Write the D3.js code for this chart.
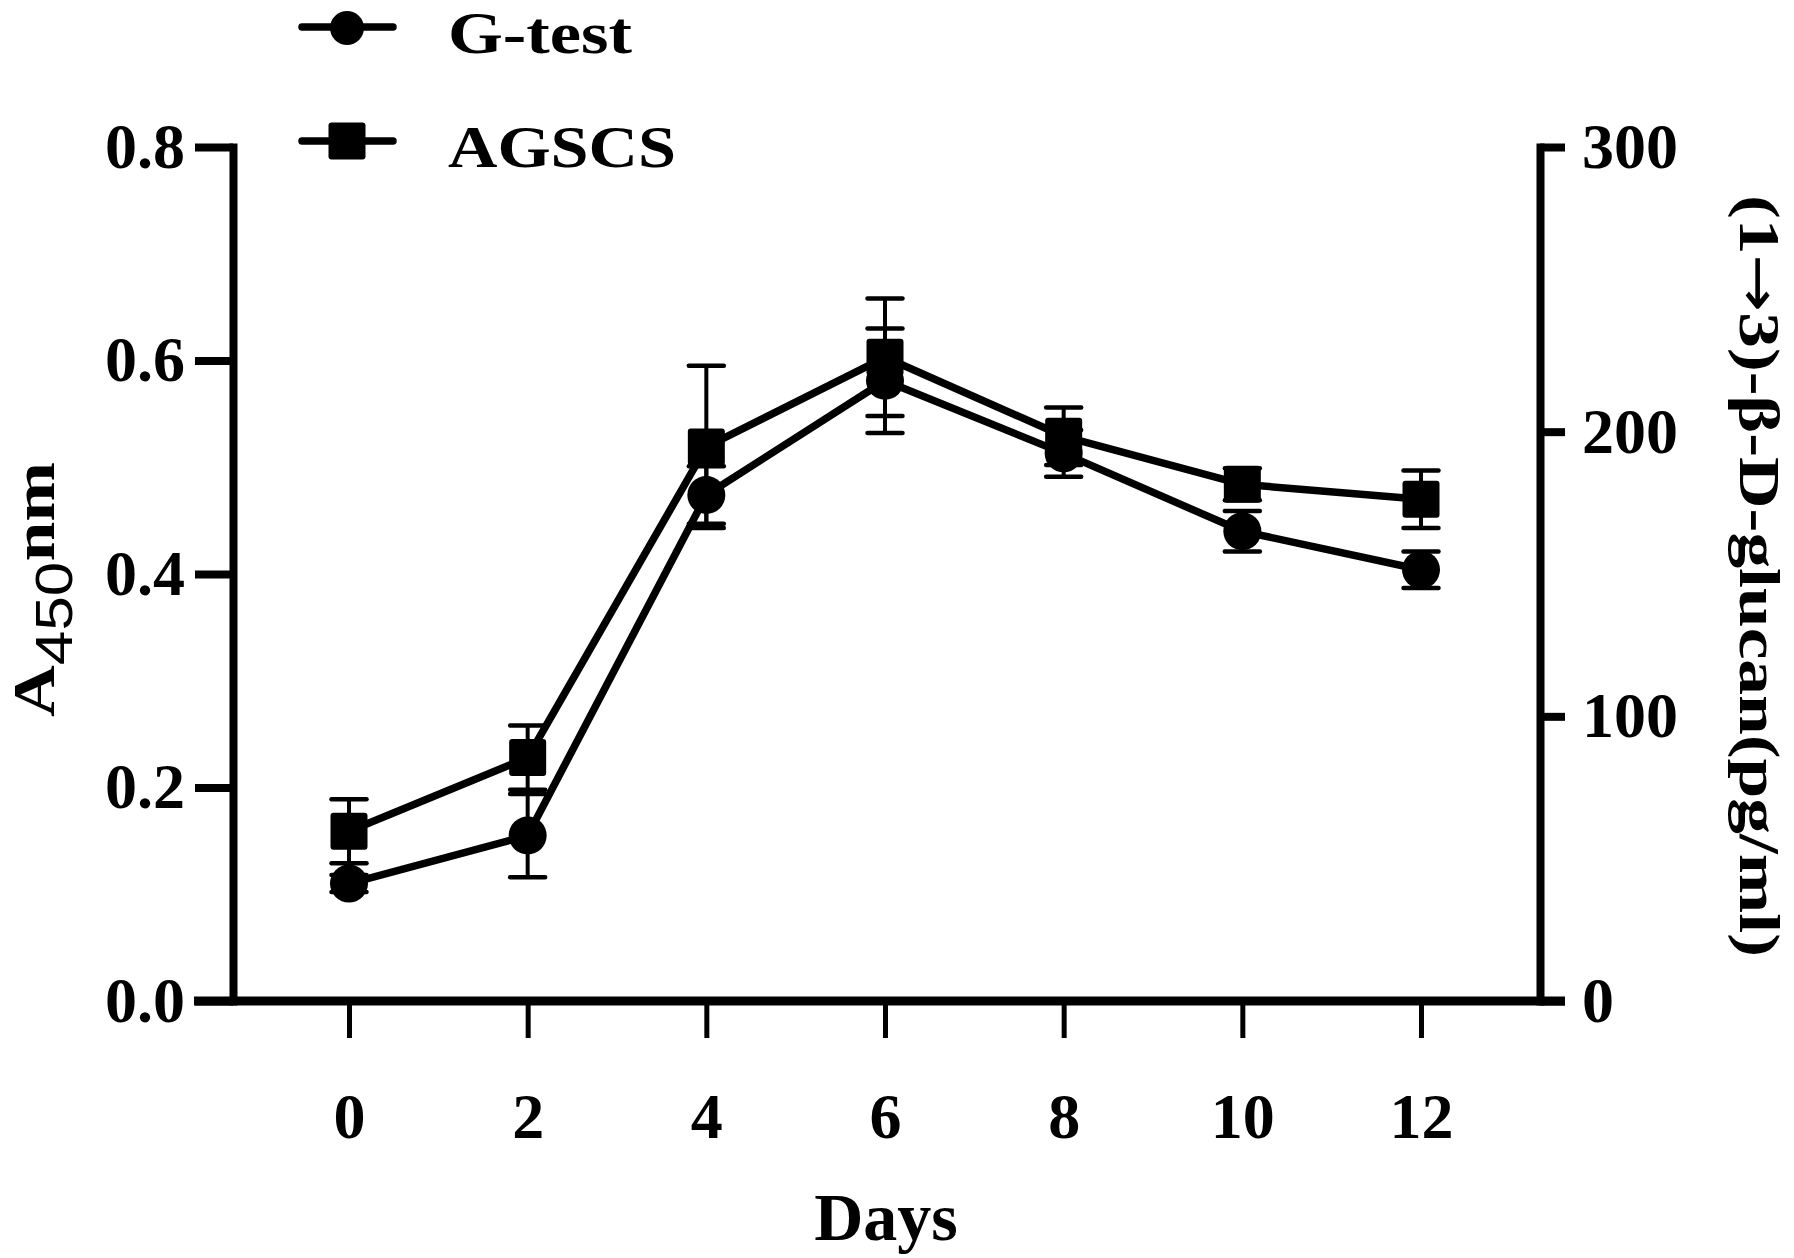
<!DOCTYPE html>
<html><head><meta charset="utf-8">
<script src="https://cdn.jsdelivr.net/npm/d3@7"></script>
<style>body{margin:0;background:#fff}</style>
</head><body>
<svg id="chart" width="1794" height="1258" xmlns="http://www.w3.org/2000/svg"></svg>
<script>
// ---- data ----
const days = [0, 2, 4, 6, 8, 10, 12];
const gtest = [0.110, 0.155, 0.474, 0.581, 0.513, 0.440, 0.404];
const gtestErr = [0.008, 0.039, 0.027, 0.049, 0.022, 0.019, 0.017];
const agscs = [0.159, 0.228, 0.519, 0.603, 0.529, 0.484, 0.470];
const agscsErr = [0.030, 0.030, 0.076, 0.055, 0.027, 0.015, 0.027];
const leftTicks = [0, 0.2, 0.4, 0.6, 0.8];
const rightTicks = [0, 100, 200, 300];
const seriesNames = ["G-test", "AGSCS"];
const xTitle = "Days";
const rightTitleParts = ["(1", "→", "3)-β-D-glucan(pg/ml)"];

// ---- setup ----
const svg = d3.select("#chart");
svg.append("rect").attr("width", 1794).attr("height", 1258).attr("fill", "#fff");
const serif = "'Liberation Serif','Times New Roman',serif";
const sans = "'Liberation Sans',Arial,sans-serif";
const x = d3.scaleLinear().domain([0, 12]).range([349, 1421]);
const y = d3.scaleLinear().domain([0, 0.8]).range([1001, 147]);
const y2 = d3.scaleLinear().domain([0, 300]).range([1001, 147]);
const leftX = 233, rightX = 1540;

function styleAxis(g, lw, fs) {
  g.selectAll("path.domain").attr("stroke", "#000").attr("stroke-width", lw).attr("stroke-linecap", "square");
  g.selectAll(".tick line").attr("stroke", "#000").attr("stroke-width", lw);
  g.selectAll(".tick text").attr("fill", "#000").style("font-family", serif)
    .style("font-weight", "bold").style("font-size", fs + "px");
}

// left axis
const gl = svg.append("g").attr("transform", `translate(${leftX},0)`)
  .call(d3.axisLeft(y).tickValues(leftTicks).tickSize(38).tickSizeOuter(0).tickPadding(10).tickFormat(d3.format(".1f")));
styleAxis(gl, 8, 64);

// right axis
const gr = svg.append("g").attr("transform", `translate(${rightX},0)`)
  .call(d3.axisRight(y2).tickValues(rightTicks).tickSize(25).tickSizeOuter(0).tickPadding(17).tickFormat(d3.format("d")));
styleAxis(gr, 8, 64);

// bottom axis
const gb = svg.append("g").attr("transform", `translate(0,${y(0)})`)
  .call(d3.axisBottom(x).tickValues(days).tickSize(37).tickSizeOuter(0).tickPadding(55));
styleAxis(gb, 5, 64);
gb.select("path.domain").remove();
svg.append("line").attr("x1", 194).attr("x2", 1565).attr("y1", y(0)).attr("y2", y(0))
  .attr("stroke", "#000").attr("stroke-width", 9);

// axis titles
svg.append("text").attr("x", 886).attr("y", 1240).attr("text-anchor", "middle")
  .style("font-family", serif).style("font-weight", "bold").style("font-size", "68px").text(xTitle);

const lt = svg.append("text").attr("transform", "translate(54,717) rotate(-90)")
  .attr("textLength", 255).attr("lengthAdjust", "spacingAndGlyphs")
  .style("font-family", serif).style("font-weight", "bold").style("font-size", "60px");
lt.append("tspan").text("A");
lt.append("tspan").attr("dy", 18).style("font-family", sans).style("font-weight", "normal").style("font-size", "52px").text("450");
lt.append("tspan").attr("dy", -18).text("nm");

const rt = svg.append("text").attr("transform", "translate(1740,576) rotate(90)").attr("text-anchor", "middle")
  .attr("textLength", 762).attr("lengthAdjust", "spacingAndGlyphs")
  .style("font-family", serif).style("font-weight", "bold").style("font-size", "58px");
rt.append("tspan").text(rightTitleParts[0]);
rt.append("tspan").style("font-family", "'DejaVu Sans',sans-serif").style("font-weight", "normal").style("font-size", "56px").text(rightTitleParts[1]);
rt.append("tspan").text(rightTitleParts[2]);

// ---- series ----
const series = [
  { name: seriesNames[0], vals: gtest, err: gtestErr, shape: "circle" },
  { name: seriesNames[1], vals: agscs, err: agscsErr, shape: "square" }
];
const line = d3.line().x((d, i) => x(days[i])).y(d => y(d));
const capW = 35;

series.forEach(s => {
  const g = svg.append("g");
  g.append("path").attr("d", line(s.vals)).attr("fill", "none").attr("stroke", "#000")
    .attr("stroke-width", 7.5).attr("stroke-linejoin", "round");
  s.vals.forEach((v, i) => {
    const cx = x(days[i]), lo = y(v - s.err[i]), hi = y(v + s.err[i]);
    g.append("line").attr("x1", cx).attr("x2", cx).attr("y1", lo).attr("y2", hi)
      .attr("stroke", "#000").attr("stroke-width", 4);
    [lo, hi].forEach(yy => g.append("line").attr("x1", cx - capW / 2).attr("x2", cx + capW / 2)
      .attr("y1", yy).attr("y2", yy).attr("stroke", "#000").attr("stroke-width", 4.5).attr("stroke-linecap", "round"));
  });
  s.vals.forEach((v, i) => {
    const cx = x(days[i]), cy = y(v);
    if (s.shape === "circle") g.append("circle").attr("cx", cx).attr("cy", cy).attr("r", 19).attr("fill", "#000");
    else g.append("rect").attr("x", cx - 18.5).attr("y", cy - 18.5).attr("width", 37).attr("height", 37).attr("rx", 3).attr("fill", "#000");
  });
});

// ---- legend ----
const legendY = [27, 141];
const legendW = [184, 228];
series.forEach((s, i) => {
  const g = svg.append("g").attr("transform", `translate(0,${legendY[i]})`);
  g.append("line").attr("x1", 302).attr("x2", 393).attr("y1", 0).attr("y2", 0)
    .attr("stroke", "#000").attr("stroke-width", 7.5).attr("stroke-linecap", "round");
  if (s.shape === "circle") g.append("circle").attr("cx", 347).attr("cy", 1).attr("r", 17).attr("fill", "#000");
  else g.append("rect").attr("x", 328.5).attr("y", -18.5).attr("width", 37).attr("height", 37).attr("rx", 3).attr("fill", "#000");
  g.append("text").attr("x", 448).attr("y", 26).attr("textLength", legendW[i]).attr("lengthAdjust", "spacingAndGlyphs")
    .style("font-family", serif).style("font-weight", "bold").style("font-size", "60px").text(s.name);
});
</script>
</body></html>
